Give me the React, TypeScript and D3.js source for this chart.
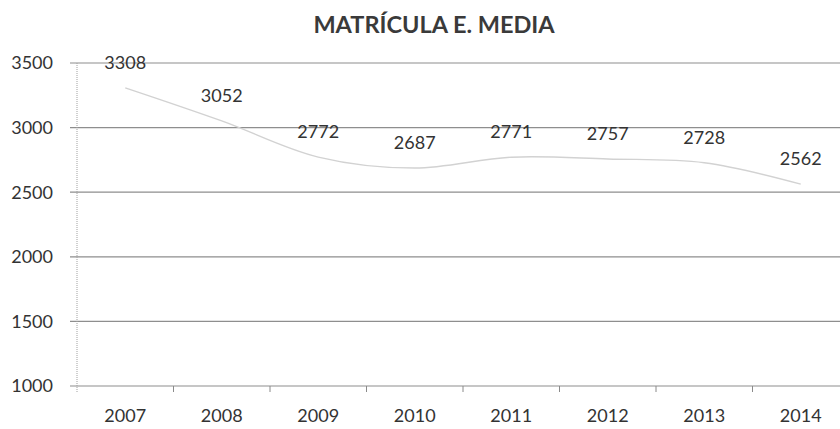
import React from "react";
import * as d3 from "d3";

const years = ["2007", "2008", "2009", "2010", "2011", "2012", "2013", "2014"];
const matricula = [3308, 3052, 2772, 2687, 2771, 2757, 2728, 2562];
const yTicks = [1000, 1500, 2000, 2500, 3000, 3500];

const width = 840;
const height = 429;
const margin = { top: 63, right: -9, bottom: 43, left: 77 };

const App: React.FC = () => {
  const x = d3
    .scaleBand<string>()
    .domain(years)
    .range([margin.left, width - margin.right]);
  const y = d3
    .scaleLinear()
    .domain([1000, 3500])
    .range([height - margin.bottom, margin.top]);

  const cx = (i: number) => (x(years[i]) as number) + x.bandwidth() / 2;

  const line = d3
    .line<number>()
    .x((_, i) => cx(i))
    .y((d) => y(d))
    .curve(d3.curveCatmullRom.alpha(0.5));

  const font = "Lato, 'Open Sans', sans-serif";

  return (
    <svg
      width={width}
      height={height}
      style={{ position: "absolute", left: 0, top: 0, background: "#fff" }}
    >
      <text
        x={434}
        y={33}
        textAnchor="middle"
        fontFamily={font}
        fontWeight="bold"
        fontSize={23.5}
        fill="#3a3a3a"
      >
        MATRÍCULA E. MEDIA
      </text>

      {/* lineas de la grilla */}
      {yTicks.map((t) => (
        <g key={t}>
          <line
            x1={margin.left - 7}
            x2={width}
            y1={y(t)}
            y2={y(t)}
            stroke="#8e8e8e"
            strokeWidth={1.2}
          />
          <text
            x={53}
            y={y(t)}
            dy="0.35em"
            textAnchor="end"
            fontFamily={font}
            fontSize={18}
            fill="#333"
          >
            {t}
          </text>
        </g>
      ))}

      {/* eje y */}
      <line
        x1={margin.left}
        x2={margin.left}
        y1={y(3500)}
        y2={y(1000) + 6}
        stroke="#a0a0a0"
        strokeWidth={1}
        strokeDasharray="1 1"
      />

      {/* ticks del eje x */}
      {years.map((yr) => (
        <line
          key={"t" + yr}
          x1={(x(yr) as number) + x.bandwidth()}
          x2={(x(yr) as number) + x.bandwidth()}
          y1={y(1000)}
          y2={y(1000) + 6}
          stroke="#8a8a8a"
        />
      ))}

      {years.map((yr, i) => (
        <text
          key={"l" + yr}
          x={cx(i)}
          y={y(1000) + 36}
          textAnchor="middle"
          fontFamily={font}
          fontSize={18}
          fill="#333"
        >
          {yr}
        </text>
      ))}

      <path
        d={line(matricula) as string}
        fill="none"
        stroke="#d2d2d2"
        strokeWidth={1.4}
      />

      {matricula.map((v, i) => (
        <text
          key={"v" + i}
          x={cx(i)}
          y={y(v) - 25}
          dy="0.35em"
          textAnchor="middle"
          fontFamily={font}
          fontSize={18}
          fill="#333"
        >
          {v}
        </text>
      ))}
    </svg>
  );
};

export default App;
